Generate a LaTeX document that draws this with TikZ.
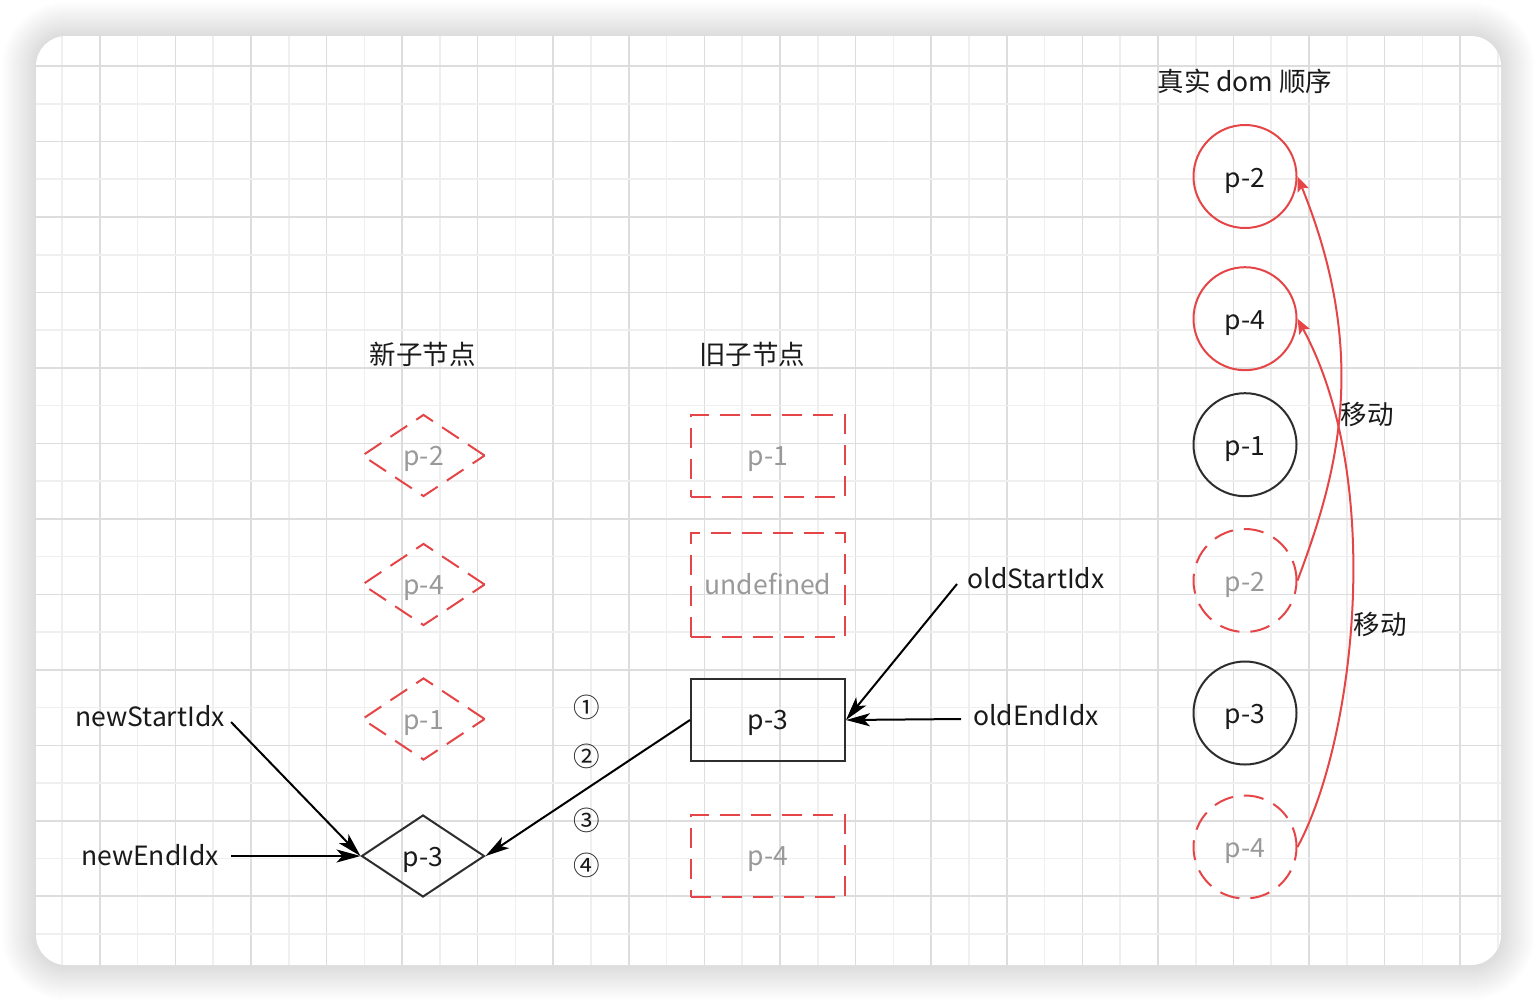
\documentclass[tikz,border=0pt]{standalone}
\usepackage{fontspec}
\setmainfont{Noto Sans CJK SC}
\usetikzlibrary{shapes.geometric,arrows.meta}
\definecolor{rd}{RGB}{229,69,70}
\definecolor{gtxt}{RGB}{153,153,153}
\definecolor{ink}{RGB}{26,26,26}
\definecolor{edgec}{RGB}{45,45,45}
\definecolor{gmaj}{RGB}{221,221,221}
\definecolor{gmin}{RGB}{239,239,239}
\newcommand\fsz{\fontsize{26.5pt}{32pt}\selectfont}
\tikzset{
  lbl/.style={font=\fsz, text=ink, inner sep=0pt},
  boxbase/.style={rectangle, line width=2pt, minimum width=154pt, inner sep=0pt, font=\fsz, text height=18.5pt, text depth=0pt},
  oldbox/.style={boxbase, draw=edgec, text=ink},
  dashbox/.style={boxbase, draw=rd, dash pattern=on 20pt off 11pt, text=gtxt},
  diam/.style={diamond, line width=2pt, minimum width=123pt, minimum height=82pt, inner sep=0pt, font=\fsz, text height=20pt, text depth=0pt},
  soliddiam/.style={diam, draw=edgec, text=ink},
  dashdiam/.style={diam, draw=rd, dash pattern=on 20pt off 11pt, text=gtxt},
  circbase/.style={circle, line width=2pt, minimum size=103pt, inner sep=0pt, font=\fsz, text height=21pt, text depth=0pt},
  blackcirc/.style={circbase, draw=edgec, text=ink},
  redcirc/.style={circbase, draw=rd, text=ink},
  dashcirc/.style={circbase, draw=rd, dash pattern=on 20pt off 11pt, text=gtxt},
  arr/.style={draw=black, line width=2pt, -{Stealth[length=24pt,width=13pt,inset=6pt]}},
  rarr/.style={draw=rd, line width=2pt, -{Stealth[length=15pt,width=12pt,inset=3pt]}}
}
\begin{document}
\begin{tikzpicture}[x=1pt,y=-1pt]
\useasboundingbox (0,0) rectangle (1538,1002);
\fill[white] (0,0) rectangle (1538,1002);
% shadow
\foreach \k [evaluate=\k as \rr using 30+\k] in {1,...,34}{
  \fill[black, opacity=0.0055, rounded corners=\rr pt] ({36-\k},{36-\k}) rectangle ({1501+\k},{966+\k});
}
% frame
\fill[white, rounded corners=30pt] (36,36) rectangle (1501,965);
% grid
\begin{scope}
  \clip[rounded corners=30pt] (36,36) rectangle (1501,965);
  \foreach \i [evaluate=\i as \xx using 62+37.79*\i] in {0,...,38}{
    \ifodd\i
      \draw[gmaj, line width=1.6pt] (\xx,36) -- (\xx,965);
    \else
      \draw[gmin, line width=1.6pt] (\xx,36) -- (\xx,965);
    \fi
  }
  \foreach \j [evaluate=\j as \yy using 66+37.74*\j] in {0,...,23}{
    \ifodd\j
      \draw[gmin, line width=1.6pt] (36,\yy) -- (1501,\yy);
    \else
      \draw[gmaj, line width=1.6pt] (36,\yy) -- (1501,\yy);
    \fi
  }
\end{scope}

% titles
\node[lbl] (tnew) at (422.5,354) {新子节点};
\node[lbl] (told) at (752,354) {旧子节点};
\node[lbl, anchor=base] (treal) at (1245,91) {真实 dom 顺序};

% new children (diamonds)
\node[dashdiam] (nd2) at (423.5,455.5) {p-2};
\node[dashdiam] (nd4) at (423.5,584.5) {p-4};
\node[dashdiam] (nd1) at (423.5,719) {p-1};
\node[soliddiam] (nd3) at (423,856) {p-3};

% old children (boxes)
\node[dashbox, minimum height=82pt] (ob1) at (768,456) {p-1};
\node[dashbox, minimum height=104pt] (obu) at (768,585) {undefined};
\node[oldbox, minimum height=82pt] (ob3) at (768,720) {p-3};
\node[dashbox, minimum height=82pt] (ob4) at (768,856) {p-4};

% circled numbers
\node[lbl] (c1n) at (587,707) {①};
\node[lbl] (c2n) at (587,756) {②};
\node[lbl] (c3n) at (587,820) {③};
\node[lbl] (c4n) at (587,865) {④};

% index labels
\node[lbl, anchor=base] (lnsi) at (150,726) {newStartIdx};
\node[lbl, anchor=base] (lnei) at (150,865) {newEndIdx};
\node[lbl, anchor=base] (losi) at (1036,588) {oldStartIdx};
\node[lbl, anchor=base] (loei) at (1036,725) {oldEndIdx};

\coordinate (nsiE) at (231,722);
\coordinate (neiE) at (231,856);
\coordinate (osiE) at (957,584);
\coordinate (oeiE) at (961,719);

\draw[arr] (nsiE) -- (nd3.west);
\draw[arr] (neiE) -- (nd3.west);
\draw[arr] (ob3.west) -- (nd3.east);
\draw[arr] (osiE) -- (ob3.east);
\draw[arr] (oeiE) -- (ob3.east);

% real dom order
\node[redcirc] (r2) at (1245,176.5) {p-2};
\node[redcirc] (r4) at (1245,318.7) {p-4};
\node[blackcirc] (r1) at (1245,444.7) {p-1};
\node[dashcirc] (r2d) at (1245,580.5) {p-2};
\node[blackcirc] (r3) at (1245,713) {p-3};
\node[dashcirc] (r4d) at (1245,847) {p-4};

\draw[rarr] (r2d.east) .. controls (1335,480) and (1372,360) .. (r2.east);
\draw[rarr] (r4d.east) .. controls (1355,740) and (1385,480) .. (r4.east);

\node[lbl] (mv1) at (1367,414) {移动};
\node[lbl] (mv2) at (1380,624) {移动};
\end{tikzpicture}
\end{document}
